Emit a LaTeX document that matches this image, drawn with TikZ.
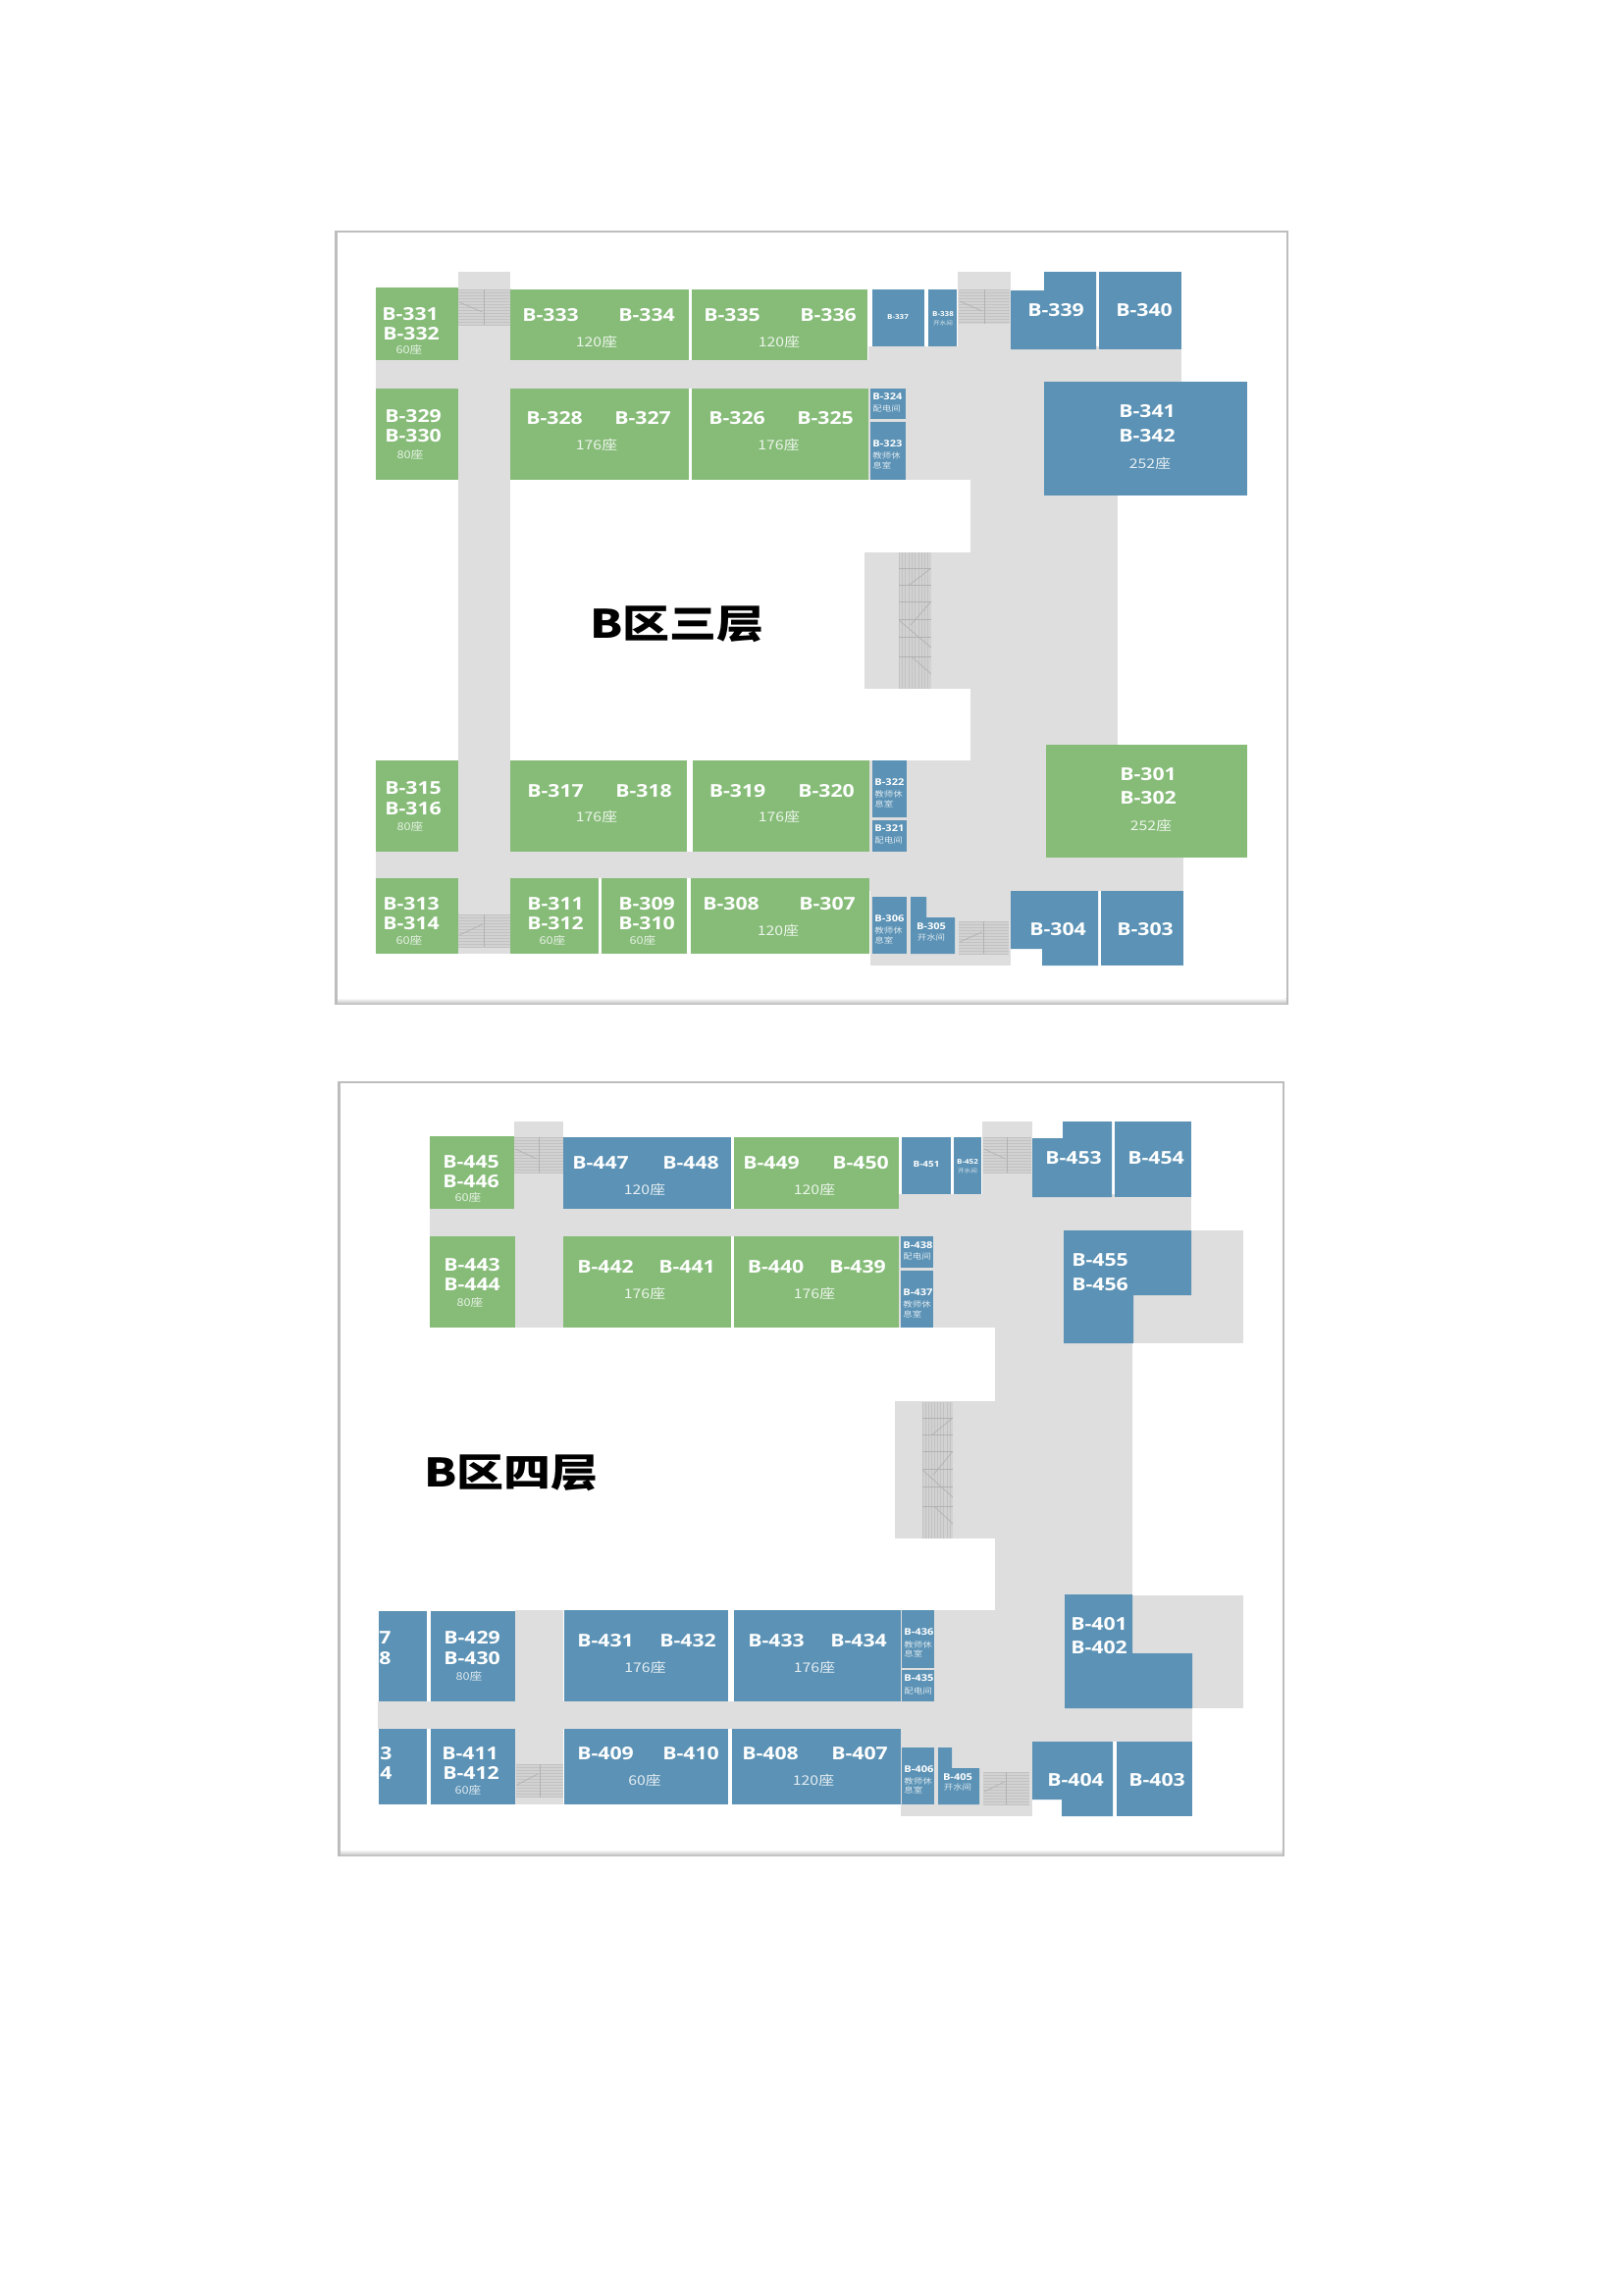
\documentclass[tikz,border=0pt]{standalone}
\usepackage{fontspec}
\setmainfont{Open Sans}
\newfontfamily\roomfont[FakeStretch=1.18]{Open Sans}
\newfontfamily\cjkfont[FakeStretch=1.18]{Noto Sans CJK SC}
\newfontfamily\titlefont[FakeStretch=1.2]{Noto Sans CJK SC}
\definecolor{roomgreen}{HTML}{86BC78}
\definecolor{roomblue}{HTML}{5B92B5}
\definecolor{corridorgray}{HTML}{DEDEDE}
\definecolor{stairgray}{HTML}{D2D2D2}
\definecolor{stairline}{HTML}{C2C2C2}
\tikzset{
	corridor/.style={fill=corridorgray},
	greenroom/.style={fill=roomgreen},
	blueroom/.style={fill=roomblue},
	framepaper/.style={fill=white},
	frameedge/.style={fill=black!26},
	stairlines/.style={draw=stairline,line width=.25pt},
	stairbars/.style={draw=black!30,line width=.35pt},
	bigname/.style={text=white,inner sep=0pt,font=\roomfont\bfseries\fontsize{9}{10}\selectfont},
	smallname/.style={text=white,inner sep=0pt,anchor=west,font=\roomfont\bfseries\fontsize{4.7}{5}\selectfont},
	tinyname/.style={text=white,inner sep=0pt,font=\roomfont\bfseries\fontsize{3.4}{4}\selectfont},
	seatbig/.style={text=white,text opacity=.85,inner sep=0pt,font=\cjkfont\fontsize{6.7}{7}\selectfont},
	seatsmall/.style={text=white,text opacity=.8,inner sep=0pt,font=\cjkfont\fontsize{5.4}{6}\selectfont},
	useword/.style={text=white,text opacity=.8,inner sep=0pt,anchor=west,font=\cjkfont\fontsize{4}{4}\selectfont},
	floortitle/.style={text=black,inner sep=0pt,font=\titlefont\bfseries\fontsize{20}{22}\selectfont},
}
% frame: paper with a bevelled edge
\newcommand{\paperframe}[4]{
	\fill[frameedge] (#1,#2) rectangle (#3,#4);
	\fill[framepaper] (#1+3,#2+1.5) rectangle (#3-2.5,#4-7);
	\shade[top color=white,bottom color=black!22] (#1+3,#4-7) rectangle (#3-2.5,#4-1.5);
}
% stairs lying flat: x, y, width, height, diagonal from, diagonal to
\newcommand{\hstair}[6]{
	\begin{scope}[shift={(#1,#2)}]
		\fill[stairgray] (0,0) rectangle (#3,#4);
		\foreach \s in {0,3,...,#4}
		\draw[stairlines] (0,\s) -- (#3,\s);
		\draw[stairbars] (#3/2,0) -- (#3/2,#4);
		\draw[stairbars] (1,#5) -- (#3/2-2,#6);
	\end{scope}
}
% stairs standing up: x, y, width
\newcommand{\vstair}[3]{
	\begin{scope}[shift={(#1,#2)},xscale=#3]
		\fill[stairgray] (0,0) rectangle (1,139);
		\foreach \s in {0,.1,...,1}
		\draw[stairlines] (\s,0) -- (\s,139);
		\foreach \s in {16,33,50,68,86,106}
		\draw[stairbars] (0,\s) -- (1,\s);
		\draw[stairbars] (1,16) -- (.33,33);
		\draw[stairbars] (1,50) -- (.36,74);
		\draw[stairbars] (0,69) -- (1,97);
		\draw[stairbars] (.42,107) -- (1,124);
	\end{scope}
}
\begin{document}
\begin{tikzpicture}[x=.5pt,y=-.5pt]
	\useasboundingbox (0,0) rectangle (1654,2339);
	\fill[white] (0,0) rectangle (1654,2339);
	%frames
	\paperframe{341}{235}{1313}{1024}
	\paperframe{344}{1102}{1309}{1892}

	%third floor, corridors
	\foreach \xa/\ya/\xb/\yb in {
		467/277/520/972,
		976/277/1030/356,
		383/367/1204/396,
		885/353/1204/389,
		885/396/1139/489,
		989/356/1139/775,
		881/563/989/702,
		886/775/1139/908,
		1139/874/1206/908,
		383/868/886/895,
		887/895/1030/984
	}
	\fill[corridor] (\xa,\ya) rectangle (\xb,\yb);
	%third floor, stairs
	\hstair{467}{295}{53}{36}{13}{23}
	\hstair{977}{295}{52}{35}{12}{22}
	\hstair{467}{932}{53}{33}{21}{10}
	\hstair{977}{939}{51}{33}{21}{11}
	\vstair{916}{563}{33}
	%third floor, green rooms
	\foreach \xa/\ya/\xb/\yb in {
		383/293/467/367,
		520/295/702/367,
		705/295/884/367,
		383/396/467/489,
		520/396/702/489,
		705/396/885/489,
		1066/759/1271/874,
		383/775/467/868,
		520/775/700/868,
		705.5/775/886/868,
		383/895/467/972,
		520/895/610/972,
		613/895/700/972,
		704/895/886/972
	}
	\fill[greenroom] (\xa,\ya) rectangle (\xb,\yb);
	%third floor, blue rooms
	\foreach \xa/\ya/\xb/\yb in {
		889/295/942/353,
		946/295/975/353,
		1120/277/1204/356,
		1064/389/1271/505,
		887/396/923/427,
		887/430/923/489,
		889/775/924/833,
		889/836/924/868,
		889/914/924/972,
		1122/908/1206/984
	}
	\fill[blueroom] (\xa,\ya) rectangle (\xb,\yb);
	\fill[blueroom] (1030,296) -- (1064,296) -- (1064,277) -- (1117,277) -- (1117,356) -- (1030,356) -- cycle;
	\fill[blueroom] (1030,908) -- (1119,908) -- (1119,984) -- (1062,984) -- (1062,967) -- (1030,967) -- cycle;
	\fill[blueroom] (928,914) -- (944,914) -- (944,935) -- (973,935) -- (973,972) -- (928,972) -- cycle;

	%fourth floor, corridors
	\foreach \xa/\ya/\xb/\yb in {
		524/1143/574/1353,
		1001/1143/1052/1220,
		438/1232/1214/1260,
		915/1217/1214/1254,
		915/1260/1154/1353,
		1014/1353/1154/1641,
		912/1428/1014/1568,
		1154/1254/1267/1369,
		525/1641/574/1839,
		385/1734/917/1762,
		917/1641/1154/1741,
		1154/1626/1267/1741,
		917/1741/1215/1775,
		918/1762/1052/1851
	}
	\fill[corridor] (\xa,\ya) rectangle (\xb,\yb);
	%fourth floor, stairs
	\hstair{524}{1159}{50}{36}{12}{22}
	\hstair{1002}{1159}{49}{36}{12}{22}
	\hstair{526}{1798}{48}{34}{21}{10}
	\hstair{1002}{1806}{47}{33}{20}{10}
	\vstair{940}{1429}{31}
	%fourth floor, green rooms
	\foreach \xa/\ya/\xb/\yb in {
		438/1158/524/1232,
		748/1159/915.5/1232,
		438/1260/525/1353,
		574/1260/745/1353,
		748/1260/915.5/1353
	}
	\fill[greenroom] (\xa,\ya) rectangle (\xb,\yb);
	%fourth floor, blue rooms
	\foreach \xa/\ya/\xb/\yb in {
		574/1159/745/1232,
		919/1159/969/1217,
		972/1159/1000/1217,
		1136/1143/1214/1220,
		918/1260/951/1292,
		918/1295/951/1353,
		385.5/1642/434.5/1734,
		439/1642/525/1734,
		574.6/1641/742/1734,
		748/1641/917.6/1734,
		919/1641/952/1700,
		919/1702/952/1734,
		385.5/1762/434.5/1839,
		439/1762/525/1839,
		574.6/1762/742/1839,
		746/1762/917.6/1839,
		919/1781/952/1839,
		1138/1775/1215/1851
	}
	\fill[blueroom] (\xa,\ya) rectangle (\xb,\yb);
	\fill[blueroom] (1052,1160) -- (1083,1160) -- (1083,1143) -- (1133,1143) -- (1133,1220) -- (1052,1220) -- cycle;
	\fill[blueroom] (1084,1254) -- (1214,1254) -- (1214,1320) -- (1155,1320) -- (1155,1369) -- (1084,1369) -- cycle;
	\fill[blueroom] (1085,1625) -- (1154,1625) -- (1154,1685) -- (1215,1685) -- (1215,1741) -- (1085,1741) -- cycle;
	\fill[blueroom] (956,1781) -- (970,1781) -- (970,1802) -- (998,1802) -- (998,1839) -- (956,1839) -- cycle;
	\fill[blueroom] (1052,1775) -- (1134,1775) -- (1134,1851) -- (1082,1851) -- (1082,1834) -- (1052,1834) -- cycle;

	%titles
	\node[floortitle] (title3) at (690,636) {B区三层};
	\node[floortitle] (title4) at (521,1501) {B区四层};

	%room names
	\foreach \rname/\xx/\yy in {
		B-331/418/320, B-332/419/340,
		B-329/421/424, B-330/421/444,
		B-333/561/321, B-334/659/321,
		B-335/746/321, B-336/844/321,
		B-328/565/426, B-327/655/426,
		B-326/751/426, B-325/841/426,
		B-339/1076/316, B-340/1166/316,
		B-341/1169/419, B-342/1169/444,
		B-315/421/803, B-316/421/824,
		B-317/566/806, B-318/656/806,
		B-319/751.5/806, B-320/842/806,
		B-313/419/921, B-314/419/941,
		B-311/566/921, B-312/566/941,
		B-309/659/921, B-310/659/941,
		B-308/745/921, B-307/843/921,
		B-304/1078/947, B-303/1167/947,
		B-301/1170/789, B-302/1170/813,
		B-445/480/1184, B-446/480/1204,
		B-443/481/1289, B-444/481/1309,
		B-447/612/1185, B-448/704/1185,
		B-449/786/1185, B-450/877/1185,
		B-442/617/1291, B-441/700/1291,
		B-440/790.6/1291, B-439/874/1291,
		B-453/1094/1180, B-454/1178/1180,
		B-455/1121/1284, B-456/1121/1309,
		B-429/481/1669, B-430/481/1690,
		B-431/617/1672, B-432/701/1672,
		B-433/791/1672, B-434/875/1672,
		B-411/479/1787, B-412/480/1807,
		B-409/617/1787, B-410/704/1787,
		B-408/785/1787, B-407/876/1787,
		B-404/1096/1814, B-403/1179/1814,
		B-401/1120/1655, B-402/1120/1679
	}
	\node[bigname] (\rname) at (\xx,\yy) {\rname};
	%cut off at the left of the sheet
	\node[bigname,anchor=east] (part27) at (399,1669) {27};
	\node[bigname,anchor=east] (part28) at (399,1690) {28};
	\node[bigname,anchor=east] (part3) at (400,1787) {3};
	\node[bigname,anchor=east] (part4) at (400,1807) {4};

	%small rooms
	\foreach \rname/\xx/\yy in {
		B-324/889/404, B-323/889/452,
		B-322/891/797, B-321/891/844,
		B-306/891/936,
		B-438/920/1269, B-437/920/1317,
		B-436/921/1663, B-435/921/1710,
		B-406/921/1803
	}
	\node[smallname] (\rname) at (\xx,\yy) {\rname};
	\foreach \rname/\xx/\yy in {
		B-337/915/323, B-338/961/320,
		B-452/986/1184
	}
	\node[tinyname] (\rname) at (\xx,\yy) {\rname};
	\node[tinyname,font=\roomfont\bfseries\fontsize{4.2}{5}\selectfont] (B-451) at (944,1187) {B-451};
	\node[smallname,anchor=center] (B-305) at (949,944) {B-305};
	\node[smallname,anchor=center] (B-405) at (976,1811) {B-405};

	%seats
	\foreach \xx/\yy/\seats [count=\i] in {
		608/348/120座, 794/348/120座,
		608/453/176座, 793.5/453/176座,
		1172/472/252座,
		608/832/176座, 794/832/176座,
		793/948/120座, 1173/841/252座,
		657/1212/120座, 830/1212/120座,
		657/1318/176座, 830/1318/176座,
		657.5/1699/176座, 830/1699/176座,
		657/1814/60座, 829/1814/120座
	}
	\node[seatbig] (seatbig\i) at (\xx,\yy) {\seats};
	\foreach \xx/\yy/\seats [count=\i] in {
		417/356/60座, 418/463/80座,
		418/842/80座, 417/958/60座,
		563/958/60座, 655/958/60座,
		477/1220/60座, 479/1327/80座,
		478/1708/80座, 477/1824/60座
	}
	\node[seatsmall] (seatsmall\i) at (\xx,\yy) {\seats};

	%what the small rooms are for
	\foreach \xx/\yy/\word [count=\i] in {
		889/416/配电间, 889/464/教师休, 889/474/息室,
		891/809/教师休, 891/819/息室, 891/856/配电间,
		891/948/教师休, 891/958/息室,
		920/1280/配电间, 920/1329/教师休, 920/1339/息室,
		921/1676/教师休, 921/1685/息室, 921/1723/配电间,
		921/1815/教师休, 921/1824/息室
	}
	\node[useword] (word\i) at (\xx,\yy) {\word};
	\node[useword,anchor=center] (word17) at (949,955) {开水间};
	\node[useword,anchor=center] (word18) at (976,1821) {开水间};
	\node[useword,anchor=center,font=\cjkfont\fontsize{2.8}{3}\selectfont] (word19) at (961,329) {开水间};
	\node[useword,anchor=center,font=\cjkfont\fontsize{2.8}{3}\selectfont] (word20) at (986,1193) {开水间};
\end{tikzpicture}
\end{document}
